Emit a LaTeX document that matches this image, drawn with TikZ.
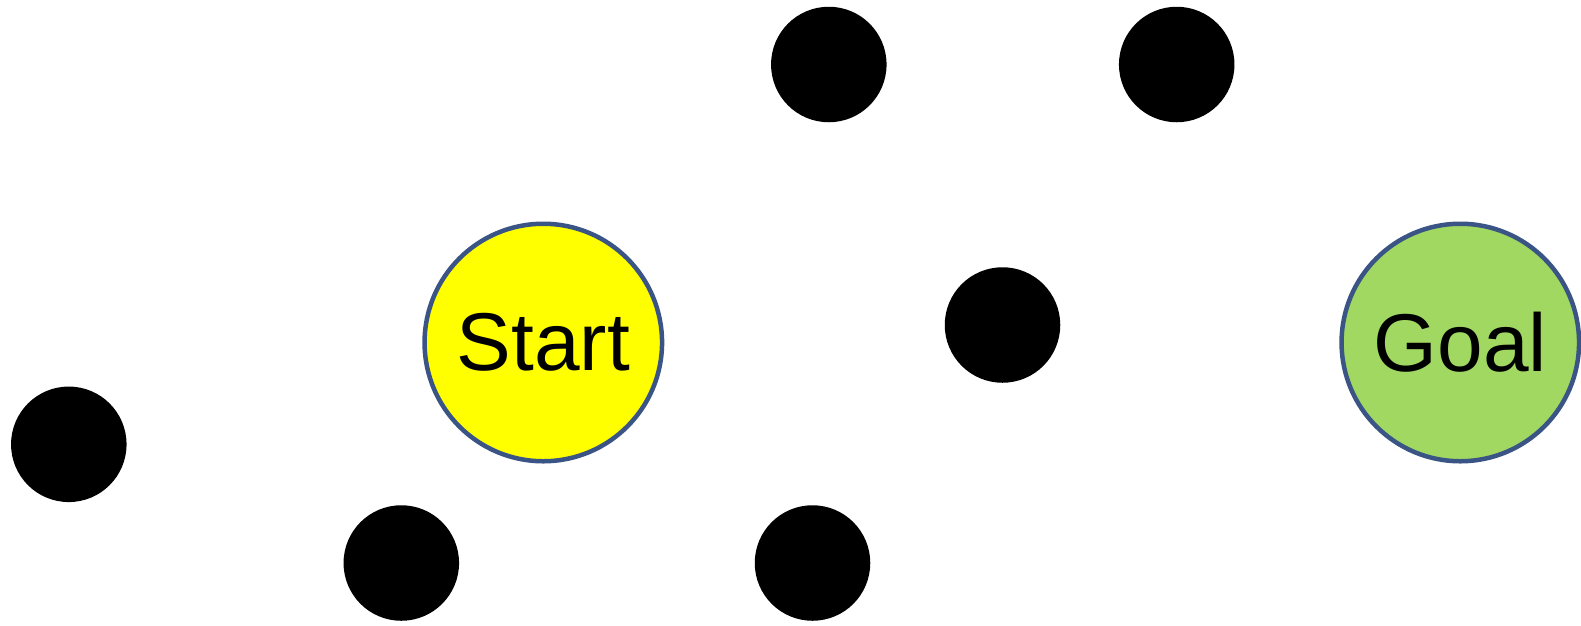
\documentclass[tikz,border=0pt]{standalone}
\usepackage{fontspec}
\setmainfont{Liberation Sans}
\begin{document}
\begin{tikzpicture}[x=1pt,y=-1pt,
  dot/.style={circle,fill=black,inner sep=0pt,minimum size=115.5pt},
  bignode/.style={circle,draw=edgeblue,line width=4.5pt,inner sep=0pt,minimum size=237.5pt,
    font=\fontsize{82}{90}\selectfont}]
\definecolor{edgeblue}{HTML}{3A5585}
\definecolor{goalgreen}{HTML}{A0D862}
\definecolor{startyellow}{HTML}{FFFF00}
\useasboundingbox (0,0) rectangle (1581,625);
\node[dot] (a) at (828.8,64.5) {};
\node[dot] (b) at (1176.7,64.5) {};
\node[dot] (c) at (1002.5,325) {};
\node[dot] (d) at (68.8,444.3) {};
\node[dot] (e) at (401.3,563) {};
\node[dot] (f) at (812.5,563) {};
\node[bignode,fill=startyellow] (start) at (543.3,342.5) {Start};
\node[bignode,fill=goalgreen] (goal) at (1460.3,342.5) {Goal};
\end{tikzpicture}
\end{document}
